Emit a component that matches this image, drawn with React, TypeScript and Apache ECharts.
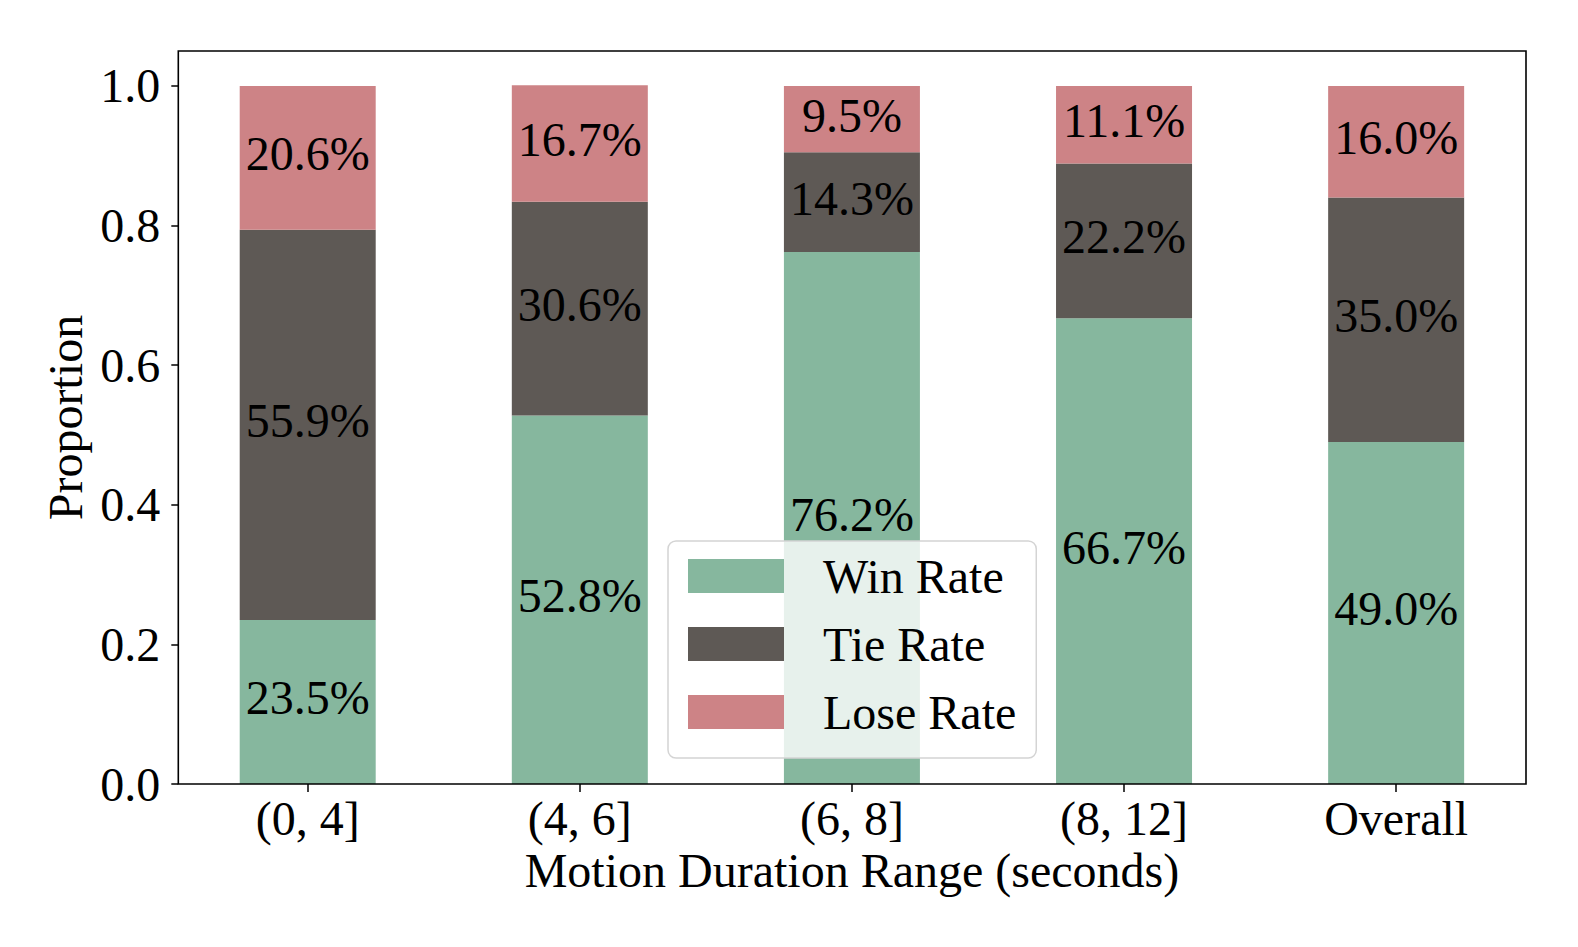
import React, { useEffect, useRef } from "react";
import * as echarts from "echarts";

const categories = ["(0, 4]", "(4, 6]", "(6, 8]", "(8, 12]", "Overall"];
const winRate = [23.5, 52.8, 76.2, 66.7, 49.0];
const tieRate = [55.9, 30.6, 14.3, 22.2, 35.0];
const loseRate = [20.6, 16.7, 9.5, 11.1, 16.0];
const yTicks = [0, 0.2, 0.4, 0.6, 0.8, 1.0];

const FONT = "'Liberation Serif', 'Times New Roman', serif";

export default function App() {
  const ref = useRef<HTMLDivElement>(null);
  useEffect(() => {
    document.body.style.margin = "0";
    if (!ref.current) return;
    const chart = echarts.init(ref.current, undefined, { renderer: "svg" });
    const mk = (name: string, vals: number[], color: string) => ({
      name,
      type: "bar",
      stack: "total",
      barWidth: 136,
      data: vals.map((v) => v / 100),
      itemStyle: { color },
      label: {
        show: true,
        position: "inside",
        offset: [0, -4],
        formatter: (p: any) => (p.value * 100).toFixed(1) + "%",
        color: "#000",
        fontFamily: FONT,
        fontSize: 48,
      },
      emphasis: { disabled: true },
    });
    // frame (axes box) in pixels
    const fx = 178.3, fy = 51, fw = 1526 - 178.3, fh = 784 - 51;
    chart.setOption({
      animation: false,
      backgroundColor: "#fff",
      grid: {
        left: 171.65,
        right: 45.8,
        top: 51,
        bottom: 163,
      },
      graphic: [
        {
          type: "rect",
          z: 100,
          silent: true,
          shape: { x: fx, y: fy, width: fw, height: fh },
          style: { fill: "none", stroke: "#000", lineWidth: 1.6 },
        },
      ],
      legend: {
        orient: "vertical",
        left: 668,
        top: 541,
        padding: [11, 20, 22, 20],
        itemWidth: 96,
        itemHeight: 34,
        itemGap: 20,
        icon: "rect",
        backgroundColor: "rgba(255,255,255,0.8)",
        borderColor: "#d4d4d4",
        borderWidth: 1.5,
        borderRadius: 8,
        textStyle: {
          fontFamily: FONT,
          fontSize: 48,
          color: "#000",
          padding: [0, 0, 0, 34],
        },
        data: ["Win Rate", "Tie Rate", "Lose Rate"],
      },
      xAxis: {
        type: "category",
        data: categories,
        name: "Motion Duration Range (seconds)",
        nameLocation: "middle",
        nameGap: 60,
        nameTextStyle: { fontFamily: FONT, fontSize: 48, color: "#000", lineHeight: 48 },
        axisLine: { show: false },
        splitLine: { show: false },
        axisTick: {
          show: true,
          alignWithLabel: true,
          length: 8,
          lineStyle: { color: "#000", width: 1.5 },
        },
        axisLabel: {
          fontFamily: FONT,
          fontSize: 48,
          color: "#000",
          lineHeight: 48,
          margin: 10,
        },
      },
      yAxis: {
        type: "value",
        min: 0,
        max: 1.05,
        offset: -6.65,
        name: "Proportion",
        nameLocation: "middle",
        nameGap: 87,
        nameTextStyle: { fontFamily: FONT, fontSize: 48, color: "#000", lineHeight: 48 },
        axisLine: { show: false },
        splitLine: { show: false },
        axisTick: {
          show: true,
          length: 7,
          lineStyle: { color: "#000", width: 1.5 },
          customValues: yTicks,
        },
        axisLabel: {
          customValues: yTicks,
          formatter: (v: number) => v.toFixed(1),
          fontFamily: FONT,
          fontSize: 48,
          color: "#000",
          margin: 18,
        },
      },
      series: [
        mk("Win Rate", winRate, "#86B79E"),
        mk("Tie Rate", tieRate, "#5E5955"),
        mk("Lose Rate", loseRate, "#CD8386"),
      ],
    });
    return () => chart.dispose();
  }, []);
  return <div ref={ref} style={{ width: 1578, height: 947 }} />;
}
